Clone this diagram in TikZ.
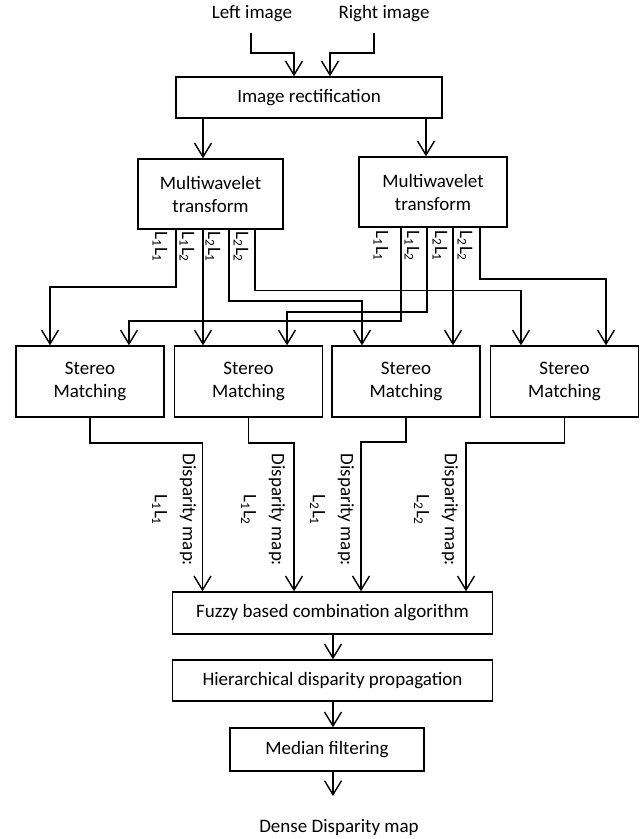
\documentclass[tikz,border=0pt]{standalone}
\usepackage{fontspec}
\setmainfont{Carlito}
\usetikzlibrary{arrows.meta,calc}
\begin{document}
\begin{tikzpicture}[x=1pt,y=-1pt,
  box/.style={draw,line width=1.4pt,align=center,inner sep=0pt,font=\fontsize{19}{23}\selectfont},
  txt/.style={inner sep=0pt,font=\fontsize{19}{23}\selectfont},
  lab/.style={inner sep=0pt,rotate=-90,font=\fontsize{19}{23}\selectfont},
  dlab/.style={inner sep=0pt,rotate=-90,align=center,font=\fontsize{19}{28}\selectfont},
  arr/.style={line width=1.4pt,-{Straight Barb[length=14pt,width=17pt]}},
]
\useasboundingbox (0,0) rectangle (644,839);
% top inputs
\node[txt] (left) at (252,14) {Left image};
\node[txt] (right) at (384,14) {Right image};
\coordinate (lin) at (251,33);
\coordinate (rin) at (374,33);
\node[box,minimum width=266pt,minimum height=41pt] (rect) at (309,97.5) {Image rectification};
% multiwavelet
\node[box,minimum width=145pt,minimum height=70pt] (mwl) at (210.5,194) {Multiwavelet\\transform};
\node[box,minimum width=148pt,minimum height=70pt] (mwr) at (433,192) {Multiwavelet\\transform};
% stereo matching
\foreach \n/\x in {sm1/90,sm2/248.5,sm3/406,sm4/564.5}
  \node[box,minimum width=148pt,minimum height=71pt] (\n) at (\x,381.5) {Stereo\\Matching};
% bottom chain
\node[box,minimum width=320pt,minimum height=42pt] (fuzzy) at (332.5,613) {Fuzzy based combination algorithm};
\node[box,minimum width=320pt,minimum height=41pt] (hier) at (332.5,680.5) {Hierarchical disparity propagation};
\node[box,minimum width=194pt,minimum height=43pt] (med) at (327,749.5) {Median filtering};
\coordinate (out) at (333,796);
\node[txt] (dense) at (339,827) {Dense Disparity map};

% top connectors
\draw[arr] (lin) -- ++(0,20) -| ([xshift=-15pt]rect.north);
\draw[arr] (rin) -- ++(0,20) -| ([xshift=21pt]rect.north);
\draw[arr] ([xshift=-106pt]rect.south) -- ([xshift=-7.5pt]mwl.north);
\draw[arr] ([xshift=117pt]rect.south) -- ([xshift=-7pt]mwr.north);

% left multiwavelet outputs
\draw[arr] ([xshift=-34.5pt]mwl.south) |- (50,287) -- ([xshift=-40pt]sm1.north);
\draw[arr] ([xshift=-7.5pt]mwl.south) -- ([xshift=-45.5pt]sm2.north);
\draw[arr] ([xshift=18.5pt]mwl.south) |- (362,301) -- ([xshift=-44pt]sm3.north);
\draw[arr] ([xshift=44.5pt]mwl.south) |- (521,290.7) -- ([xshift=-43.5pt]sm4.north);
% right multiwavelet outputs
\draw[arr] ([xshift=-32pt]mwr.south) |- (129,321) -- ([xshift=39pt]sm1.north);
\draw[arr] ([xshift=-6pt]mwr.south) |- (287,312) -- ([xshift=38.5pt]sm2.north);
\draw[arr] ([xshift=20pt]mwr.south) -- ([xshift=47pt]sm3.north);
\draw[arr] ([xshift=47pt]mwr.south) |- (606,279) -- ([xshift=41.5pt]sm4.north);

% subband labels
\node[lab] (la1) at (160,247) {L\textsubscript{1}L\textsubscript{1}};
\node[lab] (la2) at (187,247) {L\textsubscript{1}L\textsubscript{2}};
\node[lab] (la3) at (213,247) {L\textsubscript{2}L\textsubscript{1}};
\node[lab] (la4) at (241,247) {L\textsubscript{2}L\textsubscript{2}};
\node[lab] (lb1) at (381,246) {L\textsubscript{1}L\textsubscript{1}};
\node[lab] (lb2) at (412,246) {L\textsubscript{1}L\textsubscript{2}};
\node[lab] (lb3) at (440,246) {L\textsubscript{2}L\textsubscript{1}};
\node[lab] (lb4) at (465,246) {L\textsubscript{2}L\textsubscript{2}};

% stereo matching outputs
\draw[arr] (sm1.south) |- (202.5,443) -- ([xshift=-130pt]fuzzy.north);
\draw[arr] (sm2.south) |- (294,443) -- ([xshift=-38.5pt]fuzzy.north);
\draw[arr] (sm3.south) |- (361,442) -- ([xshift=28.5pt]fuzzy.north);
\draw[arr] (sm4.south) |- (466,443) -- ([xshift=133.5pt]fuzzy.north);

% disparity labels
\node[dlab] (d1) at (174,510) {Disparity map:\\L\textsubscript{1}L\textsubscript{1}};
\node[dlab] (d2) at (263,510) {Disparity map:\\L\textsubscript{1}L\textsubscript{2}};
\node[dlab] (d3) at (332,510) {Disparity map:\\L\textsubscript{2}L\textsubscript{1}};
\node[dlab] (d4) at (436,510) {Disparity map:\\L\textsubscript{2}L\textsubscript{2}};

% bottom chain connectors
\draw[arr] ([xshift=0.5pt]fuzzy.south) -- ([xshift=0.5pt]hier.north);
\draw[arr] ([xshift=0.5pt]hier.south) -- ([xshift=6pt]med.north);
\draw[arr] ([xshift=6pt]med.south) -- (out);
\end{tikzpicture}
\end{document}
